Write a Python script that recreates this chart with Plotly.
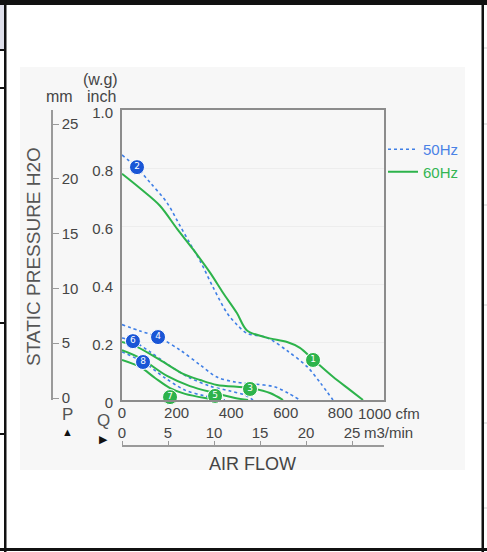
import plotly.graph_objects as go

# ---------------- data (cfm, inch w.g.) ----------------
g1_cfm = [0, 66, 139, 202, 260, 322, 370, 421, 458, 531, 605, 652, 700, 773, 835, 883]
g1_in = [0.78, 0.73, 0.67, 0.59, 0.52, 0.44, 0.37, 0.30, 0.24, 0.215, 0.20, 0.18, 0.14, 0.08, 0.035, 0]

b2_cfm = [0, 55, 103, 165, 213, 249, 286, 333, 385, 421, 458, 531, 605, 678, 726, 773]
b2_in = [0.845, 0.80, 0.75, 0.68, 0.60, 0.54, 0.48, 0.39, 0.30, 0.26, 0.23, 0.215, 0.17, 0.115, 0.06, 0]

b4_cfm = [0, 66, 132, 213, 286, 348, 414, 487, 561, 608, 652]
b4_in = [0.26, 0.238, 0.217, 0.172, 0.121, 0.079, 0.062, 0.055, 0.045, 0.024, 0]

g3_cfm = [0, 55, 139, 224, 286, 348, 469, 542, 590]
g3_in = [0.20, 0.183, 0.138, 0.090, 0.069, 0.052, 0.041, 0.024, 0]

b6_cfm = [0, 40, 103, 176, 249, 322, 396, 451, 480]
b6_in = [0.214, 0.203, 0.166, 0.117, 0.076, 0.048, 0.031, 0.017, 0]

g5_cfm = [0, 66, 165, 249, 341, 414, 462]
g5_in = [0.172, 0.145, 0.083, 0.048, 0.024, 0.007, 0]

b8_cfm = [0, 77, 158, 231, 304, 377]
b8_in = [0.166, 0.131, 0.076, 0.034, 0.014, 0]

g7_cfm = [0, 66, 121, 176, 231, 304, 359]
g7_in = [0.138, 0.114, 0.076, 0.041, 0.021, 0.007, 0]

green_labels = ["1", "3", "5", "7"]
green_mk_cfm = [700, 469, 341, 176]
green_mk_in = [0.138, 0.038, 0.014, 0.010]

blue_labels = ["2", "4", "6", "8"]
blue_mk_cfm = [55, 132, 40, 77]
blue_mk_in = [0.803, 0.217, 0.203, 0.131]

inch_ticks = [0, 0.2, 0.4, 0.6, 0.8, 1.0]
inch_text = ["0", "0.2", "0.4", "0.6", "0.8", "1.0"]
mm_ticks = [0, 5, 10, 15, 20, 25]
cfm_ticks = [0, 200, 400, 600, 800]
m3_ticks = [0, 5, 10, 15, 20, 25]

# ---------------- style ----------------
GREEN = "#2db34b"
BLUE = "#3f7fe6"
BLUE_MK = "#1a56d6"
TXT = "#454545"
FONT = "Liberation Sans, Arial, sans-serif"
TICK = 15
W, H = 487, 552
ML, MR, MT, MB = 20, 22, 67, 82


def px(x):
    return (x - ML) / (W - ML - MR)


def py(y):
    return (H - MB - y) / (H - MT - MB)


fig = go.Figure()

first = {"50": True, "60": True}


def add_curve(xs, ys, hz):
    show = first[hz]
    first[hz] = False
    if hz == "50":
        line = dict(color=BLUE, width=1.6, dash="dot", shape="spline", smoothing=0.9)
        name = '<span style="color:#4a82e6">50Hz</span>'
    else:
        line = dict(color=GREEN, width=2, shape="spline", smoothing=0.9)
        name = '<span style="color:#33b553">60Hz</span>'
    fig.add_trace(go.Scatter(x=xs, y=ys, mode="lines", line=line, name=name,
                             legendgroup=hz, showlegend=show, hoverinfo="skip"))


add_curve(b2_cfm, b2_in, "50")
add_curve(g1_cfm, g1_in, "60")
add_curve(b4_cfm, b4_in, "50")
add_curve(b6_cfm, b6_in, "50")
add_curve(b8_cfm, b8_in, "50")
add_curve(g3_cfm, g3_in, "60")
add_curve(g5_cfm, g5_in, "60")
add_curve(g7_cfm, g7_in, "60")

fig.add_trace(go.Scatter(x=green_mk_cfm, y=green_mk_in, mode="markers+text", text=green_labels,
                         textposition="middle center", cliponaxis=False,
                         marker=dict(size=15, color=GREEN, line=dict(color="white", width=1)),
                         textfont=dict(color="white", size=9, family="DejaVu Sans, sans-serif"),
                         showlegend=False, hoverinfo="skip"))
fig.add_trace(go.Scatter(x=blue_mk_cfm, y=blue_mk_in, mode="markers+text", text=blue_labels,
                         textposition="middle center", cliponaxis=False,
                         marker=dict(size=15, color=BLUE_MK, line=dict(color="white", width=1)),
                         textfont=dict(color="white", size=9, family="DejaVu Sans, sans-serif"),
                         showlegend=False, hoverinfo="skip"))

# dummy traces so the secondary axes are drawn
fig.add_trace(go.Scatter(x=[0], y=[0], xaxis="x2", yaxis="y", mode="markers",
                         marker=dict(opacity=0), showlegend=False, hoverinfo="skip"))
fig.add_trace(go.Scatter(x=[0], y=[0], xaxis="x", yaxis="y2", mode="markers",
                         marker=dict(opacity=0), showlegend=False, hoverinfo="skip"))

AX = "#8c8c8c"
fig.update_layout(
    width=W, height=H,
    margin=dict(l=ML, r=MR, t=MT, b=MB, pad=0),
    paper_bgcolor="white", plot_bgcolor="white",
    font=dict(family=FONT, size=TICK, color=TXT),
    xaxis=dict(domain=[px(122), px(384)], range=[0, 960], tickvals=cfm_ticks,
               showgrid=False, zeroline=False, showline=True, mirror=True,
               linecolor=AX, linewidth=2, ticks="", ticklabelstandoff=-2,
               tickfont=dict(size=TICK, color=TXT)),
    yaxis=dict(domain=[py(400), py(110)], range=[0, 1.0], tickvals=inch_ticks, ticktext=inch_text,
               showgrid=True, gridcolor="#ededed", gridwidth=1, zeroline=False,
               showline=True, mirror=True, linecolor=AX, linewidth=2, ticks="",
               ticklabelstandoff=4, ticklabelshift=3, tickfont=dict(size=TICK, color=TXT)),
    xaxis2=dict(overlaying="x", anchor="free", position=py(446), side="top",
                range=[0, 262 / 9.2], tickvals=m3_ticks, showgrid=False, zeroline=False,
                showline=True, linecolor="#9a9a9a", linewidth=1.5, ticks="outside",
                ticklen=4, tickcolor="#9a9a9a", ticklabelstandoff=-3,
                tickfont=dict(size=TICK, color=TXT)),
    yaxis2=dict(overlaying="y", anchor="free", position=px(52), side="right",
                range=[-2 / 10.96, 288 / 10.96], tickvals=mm_ticks, showgrid=False,
                zeroline=False, showline=True, linecolor="#9a9a9a", linewidth=1.5,
                ticks="outside", ticklen=6, tickcolor="#9a9a9a",
                tickfont=dict(size=TICK, color=TXT)),
    legend=dict(x=px(383), y=py(133), xanchor="left", yanchor="top",
                bgcolor="rgba(0,0,0,0)", font=dict(size=15, family=FONT),
                itemwidth=30, tracegroupgap=0),
    showlegend=True,
)

ann = []


def note(text, x, y, size=TICK, color=TXT, xanchor="center", angle=0):
    ann.append(dict(text=text, x=px(x), y=py(y), xref="paper", yref="paper",
                    showarrow=False, xanchor=xanchor, yanchor="middle",
                    textangle=angle, font=dict(size=size, color=color, family=FONT)))


note("(w.g)", 100, 80, size=16)
note("mm", 59, 96, size=16)
note("inch", 101, 96, size=16)
note("STATIC PRESSURE H2O", 33, 257, size=19, color="#555555", angle=-90)
note("AIR FLOW", 252, 464, size=18, color="#444444")
note("P", 67, 414, size=17, color="#555555")
note("▲", 67, 432, size=11, color="#111111")
note("Q", 103, 420, size=17, color="#555555")
note("▶", 103, 439, size=11, color="#111111")
note("1000 cfm", 356, 413, xanchor="left")
note("m3/min", 362, 432, xanchor="left")
fig.update_layout(annotations=ann)

shapes = []
# light gray image background
shapes.append(dict(type="rect", xref="paper", yref="paper", x0=0, x1=1, y0=0, y1=1,
                   fillcolor="#f7f7f7", line=dict(width=0), layer="below"))


def rect(x0, y0, x1, y1, color):
    shapes.append(dict(type="rect", xref="paper", yref="paper",
                       x0=px(x0), x1=px(x1), y0=py(y1), y1=py(y0),
                       fillcolor=color, line=dict(width=0), layer="above"))


# table frame
rect(0, 5, 4, 50, "#dedfea")
rect(0, 0, 487, 5, "#111111")
rect(4, 0, 6.5, 552, "#111111")
rect(481.5, 0, 484, 552, "#111111")
rect(0, 548, 487, 551, "#111111")
for yy in (50, 88, 323, 434):
    rect(0, yy - 1, 5, yy + 1, "#111111")
for yy in (48, 124, 205, 305, 423, 508):
    rect(484, yy - 0.5, 487, yy + 0.5, "#cfcfcf")
fig.update_layout(shapes=shapes)

fig.write_html("out.html", config={"displayModeBar": False},
               post_script="document.body.style.margin='0';document.body.style.padding='0';")
